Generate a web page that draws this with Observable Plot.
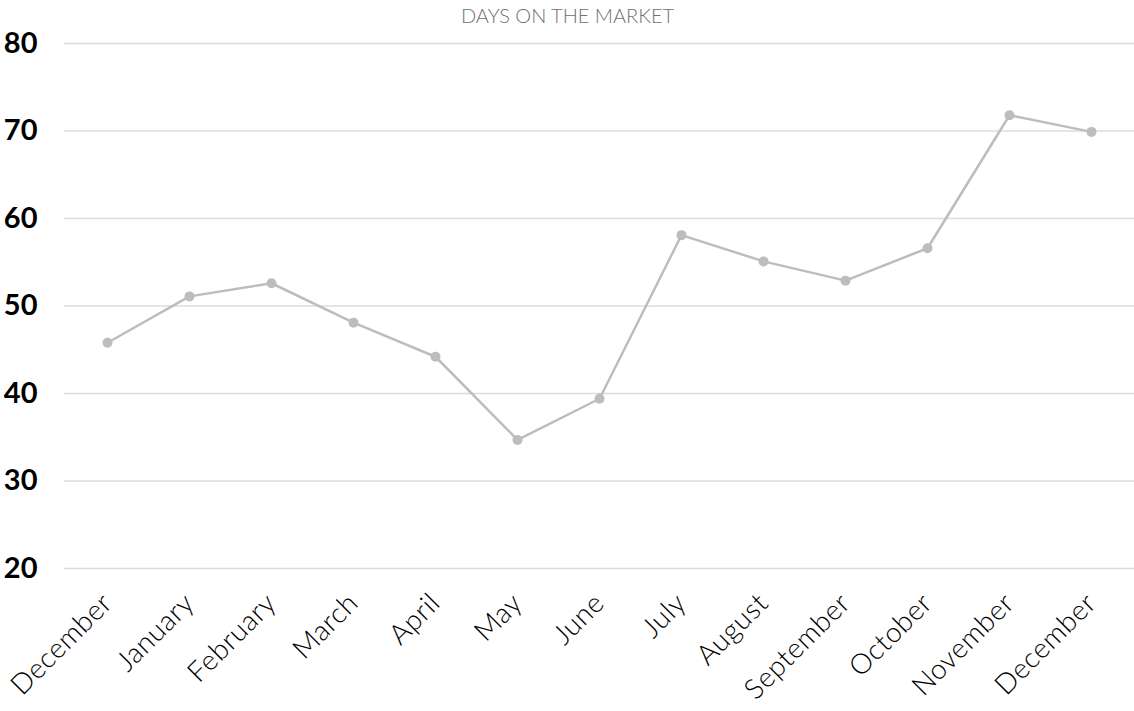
<!DOCTYPE html>
<html>
<head>
<meta charset="utf-8">
<script src="https://cdn.jsdelivr.net/npm/d3@7"></script>
<script src="https://cdn.jsdelivr.net/npm/@observablehq/plot@0.6"></script>
<style>
html, body { margin: 0; padding: 0; background: #fff; }
#chart svg { display: block; }
g[aria-label="y-axis tick label"] text { font-family: Lato, sans-serif; font-weight: 700; font-size: 29px; fill: #000; }
g[aria-label="x-axis tick label"] text { font-family: Lato, sans-serif; font-weight: 300; font-size: 28px; fill: #000; letter-spacing: 0.5px; }
</style>
</head>
<body>
<div id="chart"></div>
<script>
const months = ["December","January","February","March","April","May","June","July","August","September","October","November","December"];
const days = [45.8, 51.1, 52.6, 48.1, 44.2, 34.7, 39.4, 58.1, 55.1, 52.9, 56.6, 71.8, 69.9];
const yTicks = [20, 30, 40, 50, 60, 70, 80];
const title = "DAYS ON THE MARKET";

const data = months.map((m, i) => ({i, month: m, value: days[i]}));

const chart = Plot.plot({
  width: 1134,
  height: 711,
  marginLeft: 64,
  marginRight: 0,
  marginTop: 43,
  marginBottom: 143,
  style: {fontFamily: "Lato, sans-serif", background: "#fff"},
  x: {type: "point", domain: months.map((_, i) => i), padding: 0.5},
  y: {domain: [20, 80]},
  marks: [
    Plot.ruleY(yTicks, {stroke: "#dcdcdc", strokeWidth: 1.5}),
    Plot.axisY({ticks: yTicks, tickSize: 0, tickPadding: 27, label: null}),
    Plot.axisX({tickFormat: i => months[i], tickRotate: -45, tickSize: 0, tickPadding: 30, label: null}),
    Plot.line(data, {x: "i", y: "value", stroke: "#bdbdbd", strokeWidth: 2.5}),
    Plot.dot(data, {x: "i", y: "value", fill: "#bdbdbd", r: 5}),
    Plot.text([title], {frameAnchor: "top", lineAnchor: "bottom", dx: -32, dy: -21, fontSize: 20, fill: "#707070", fontWeight: 300, text: d => d, style: "letter-spacing:1.5px"})
  ]
});
document.getElementById("chart").append(chart);
</script>
</body>
</html>
